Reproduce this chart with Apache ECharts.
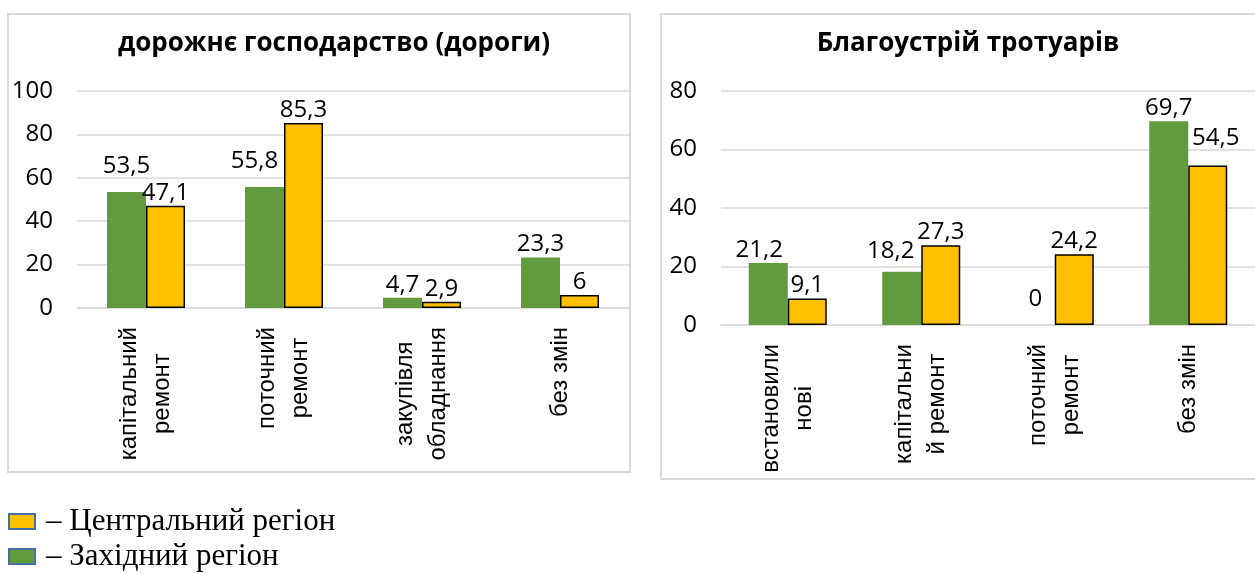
<!DOCTYPE html>
<html lang="uk">
  <head>
    <meta charset="UTF-8" />
    <title>Дороги та тротуари</title>
    <script src="https://cdn.jsdelivr.net/npm/echarts@6/dist/echarts.min.js"></script>
    <style>
      html, body { margin: 0; padding: 0; background: #fff; }
    </style>
  </head>
  <body>
    <div id="main" style="width: 1255px; height: 574px"></div>
    <script>
      // ліва діаграма
      const roadCats = ['капітальний\nремонт', 'поточний\nремонт', 'закупівля\nобладнання', 'без змін'];
      const roadWest = [53.5, 55.8, 4.7, 23.3];
      const roadCentral = [47.1, 85.3, 2.9, 6];
      // права діаграма
      const walkCats = ['встановили\nнові', 'капітальни\nй ремонт', 'поточний\nремонт', 'без змін'];
      const walkWest = [21.2, 18.2, 0, 69.7];
      const walkCentral = [9.1, 27.3, 24.2, 54.5];

      const nameCentral = 'Центральний регіон';
      const nameWest = 'Західний регіон';

      const green = '#629b3e';
      const yellow = '#ffc000';
      const numFont = 'Open Sans';

      // зсуви підписів, щоб не налазили один на одного (як у Excel)
      const labelShift = {
        roadWest: { 0: [0, -13], 1: [-10, -13] },
        walkWest: { 0: [-9, 0], 1: [-11, -8], 2: [0, -13] },
        walkCentral: { 3: [8, -14] },
      };

      const fmt = (v) => String(v).replace('.', ',');

      function catLabel(s) {
        return s.split('\n').map((t) => '{c|' + t + '}').join('\n');
      }

      function barSeries(name, data, idx, isCentral, key) {
        const shift = labelShift[key] || {};
        return {
          name: name,
          type: 'bar',
          xAxisIndex: idx,
          yAxisIndex: idx,
          data: data.map((v, i) => (shift[i] ? { value: v, label: { offset: shift[i] } } : v)),
          barWidth: 39,
          barGap: '0%',
          itemStyle: isCentral
            ? { color: yellow, borderColor: '#000', borderWidth: 1.5 }
            : { color: green },
          label: {
            show: true,
            position: 'top',
            distance: 1,
            color: '#000',
            fontFamily: numFont,
            fontSize: 24,
            formatter: (p) => fmt(p.value),
          },
        };
      }

      function xAxis(idx, cats) {
        return {
          type: 'category',
          gridIndex: idx,
          data: cats,
          axisLine: { lineStyle: { color: '#d9d9d9', width: 1.5 } },
          axisTick: { show: false },
          axisLabel: {
            rotate: 90,
            margin: 19,
            interval: 0,
            color: '#000',
            formatter: catLabel,
            rich: {
              c: { align: 'center', fontFamily: 'Liberation Sans', fontSize: 24, lineHeight: 33, color: '#000' },
            },
          },
        };
      }

      function yAxis(idx, max) {
        return {
          type: 'value',
          gridIndex: idx,
          min: 0,
          max: max,
          interval: 20,
          axisLine: { show: false },
          axisTick: { show: false },
          axisLabel: { color: '#000', fontFamily: numFont, fontSize: 24, margin: 24 },
          splitLine: { lineStyle: { color: '#d9d9d9', width: 1.5 } },
        };
      }

      function legend(name, color, top) {
        return {
          left: 8,
          top: top,
          padding: 0,
          itemWidth: 26,
          itemHeight: 15,
          itemGap: 0,
          data: [{ name: name, icon: 'rect', itemStyle: { color: color, borderColor: '#41719c', borderWidth: 2 } }],
          formatter: (n) => '– ' + n,
          textStyle: { fontFamily: 'Liberation Serif', fontSize: 31, color: '#000', padding: [0, 0, 0, 6] },
        };
      }

      function box(x, y, w, h) {
        return {
          type: 'rect',
          shape: { x: x, y: y, width: w, height: h },
          style: { fill: 'none', stroke: '#d9d9d9', lineWidth: 2 },
          z: -10,
        };
      }

      function heading(text, x) {
        return {
          type: 'text',
          x: x,
          y: 31,
          style: {
            text: text,
            textAlign: 'center',
            fontFamily: numFont,
            fontWeight: 'bold',
            fontSize: 26,
            fill: '#000',
          },
        };
      }

      const chart = echarts.init(document.getElementById('main'));
      chart.setOption({
        animation: false,
        grid: [
          { left: 77, right: 626, top: 91, bottom: 266 },
          { left: 721, width: 539, top: 91, bottom: 249 },
        ],
        xAxis: [xAxis(0, roadCats), xAxis(1, walkCats)],
        yAxis: [yAxis(0, 100), yAxis(1, 80)],
        legend: [legend(nameCentral, yellow, 506), legend(nameWest, green, 541)],
        graphic: [
          box(8, 14, 622, 458),
          box(661, 14, 620, 465),
          heading('дорожнє господарство (дороги)', 334),
          heading('Благоустрій тротуарів', 968),
        ],
        series: [
          barSeries(nameWest, roadWest, 0, false, 'roadWest'),
          barSeries(nameCentral, roadCentral, 0, true, 'roadCentral'),
          barSeries(nameWest, walkWest, 1, false, 'walkWest'),
          barSeries(nameCentral, walkCentral, 1, true, 'walkCentral'),
        ],
      });
    </script>
  </body>
</html>
